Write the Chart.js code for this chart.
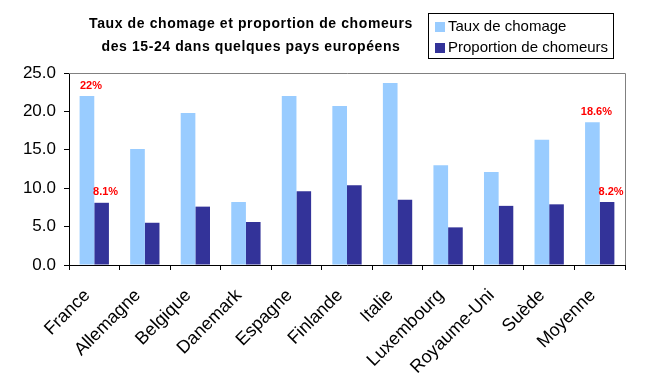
<!DOCTYPE html>
<html>
<head>
<meta charset="utf-8">
<script src="https://cdn.jsdelivr.net/npm/chart.js@4"></script>
<style>
  body { margin: 0; background: #fff; }
  #wrap { width: 654px; height: 385px; }
</style>
</head>
<body>
<div id="wrap"><canvas id="graf" width="654" height="385"></canvas></div>
<script>
// donnees
const pays = ["France","Allemagne","Belgique","Danemark","Espagne","Finlande","Italie","Luxembourg","Royaume-Uni","Suède","Moyenne"]
const tauxChomage = [22.0, 15.1, 19.8, 8.2, 22.0, 20.7, 23.7, 13.0, 12.1, 16.3, 18.6]
const propChomeurs = [8.1, 5.5, 7.6, 5.6, 9.6, 10.4, 8.5, 4.9, 7.7, 7.9, 8.2]
const etiqTaux = ["22%","","","","","","","","","","18.6%"]
const etiqProp = ["8.1%","","","","","","","","","","8.2%"]
const titre = ["Taux de chomage et proportion de chomeurs", "des 15-24 dans quelques pays européens"]

const police = "'Liberation Sans', Arial, sans-serif"
const cores = ["#99ccff", "#333399"]

const decor = {
  id: "decor",
  afterDraw(chart) {
    const {ctx, chartArea: {left, right, top, bottom}} = chart
    ctx.save()
    // cadre haut et droit
    ctx.strokeStyle = "#808080"
    ctx.lineWidth = 1
    ctx.beginPath()
    ctx.moveTo(left, top + 0.5)
    ctx.lineTo(right + 0.5, top + 0.5)
    ctx.lineTo(right + 0.5, bottom)
    ctx.stroke()

    // titre
    ctx.fillStyle = "#000"
    ctx.font = "bold 14px " + police
    ctx.letterSpacing = "0.6px"
    ctx.textAlign = "center"
    ctx.textBaseline = "middle"
    ctx.fillText(titre[0], 251, 24)
    ctx.fillText(titre[1], 251, 47)
    ctx.letterSpacing = "0px"

    // legende
    ctx.strokeStyle = "#000"
    ctx.strokeRect(428.5, 13.5, 185, 45)
    ctx.font = "15px " + police
    ctx.textAlign = "left"
    chart.data.datasets.forEach((ds, i) => {
      let y = 27 + i * 21
      ctx.fillStyle = ds.backgroundColor
      ctx.fillRect(435, y - 5, 10, 10)
      ctx.fillStyle = "#000"
      ctx.fillText(ds.label, 448, y)
    })

    // etiquettes rouges
    ctx.font = "bold 11px " + police
    ctx.fillStyle = "#ff0000"
    ctx.textAlign = "center"
    ctx.textBaseline = "bottom"
    const etiq = [etiqTaux, etiqProp]
    chart.data.datasets.forEach((ds, i) => {
      chart.getDatasetMeta(i).data.forEach((bar, j) => {
        if (etiq[i][j]) ctx.fillText(etiq[i][j], bar.x + 4, bar.y - 5)
      })
    })
    ctx.restore()
  }
}

new Chart(document.getElementById("graf"), {
  type: "bar",
  data: {
    labels: pays,
    datasets: [
      {label: "Taux de chomage", data: tauxChomage, backgroundColor: cores[0]},
      {label: "Proportion de chomeurs", data: propChomeurs, backgroundColor: cores[1]}
    ]
  },
  options: {
    responsive: false,
    devicePixelRatio: 1,
    animation: false,
    categoryPercentage: 0.58,
    barPercentage: 1,
    layout: {padding: {top: 73, right: 29, left: 0, bottom: 0}},
    plugins: {legend: {display: false}, title: {display: false}, tooltip: {enabled: false}},
    scales: {
      y: {
        min: 0, max: 25,
        afterFit: s => { s.width = 69 },
        ticks: {stepSize: 5, color: "#000", font: {family: police, size: 17}, padding: 8,
          callback: v => v.toFixed(1)},
        grid: {drawOnChartArea: false, tickLength: 5, color: "#000"},
        border: {color: "#000"}
      },
      x: {
        afterFit: s => { s.height = 120 },
        ticks: {color: "#000", font: {family: police, size: 18}, minRotation: 45, maxRotation: 45,
          autoSkip: false, labelOffset: -7, padding: 15},
        grid: {drawOnChartArea: false, tickLength: 5, color: "#000", offset: true},
        border: {color: "#000"}
      }
    }
  },
  plugins: [decor]
})
</script>
</body>
</html>
